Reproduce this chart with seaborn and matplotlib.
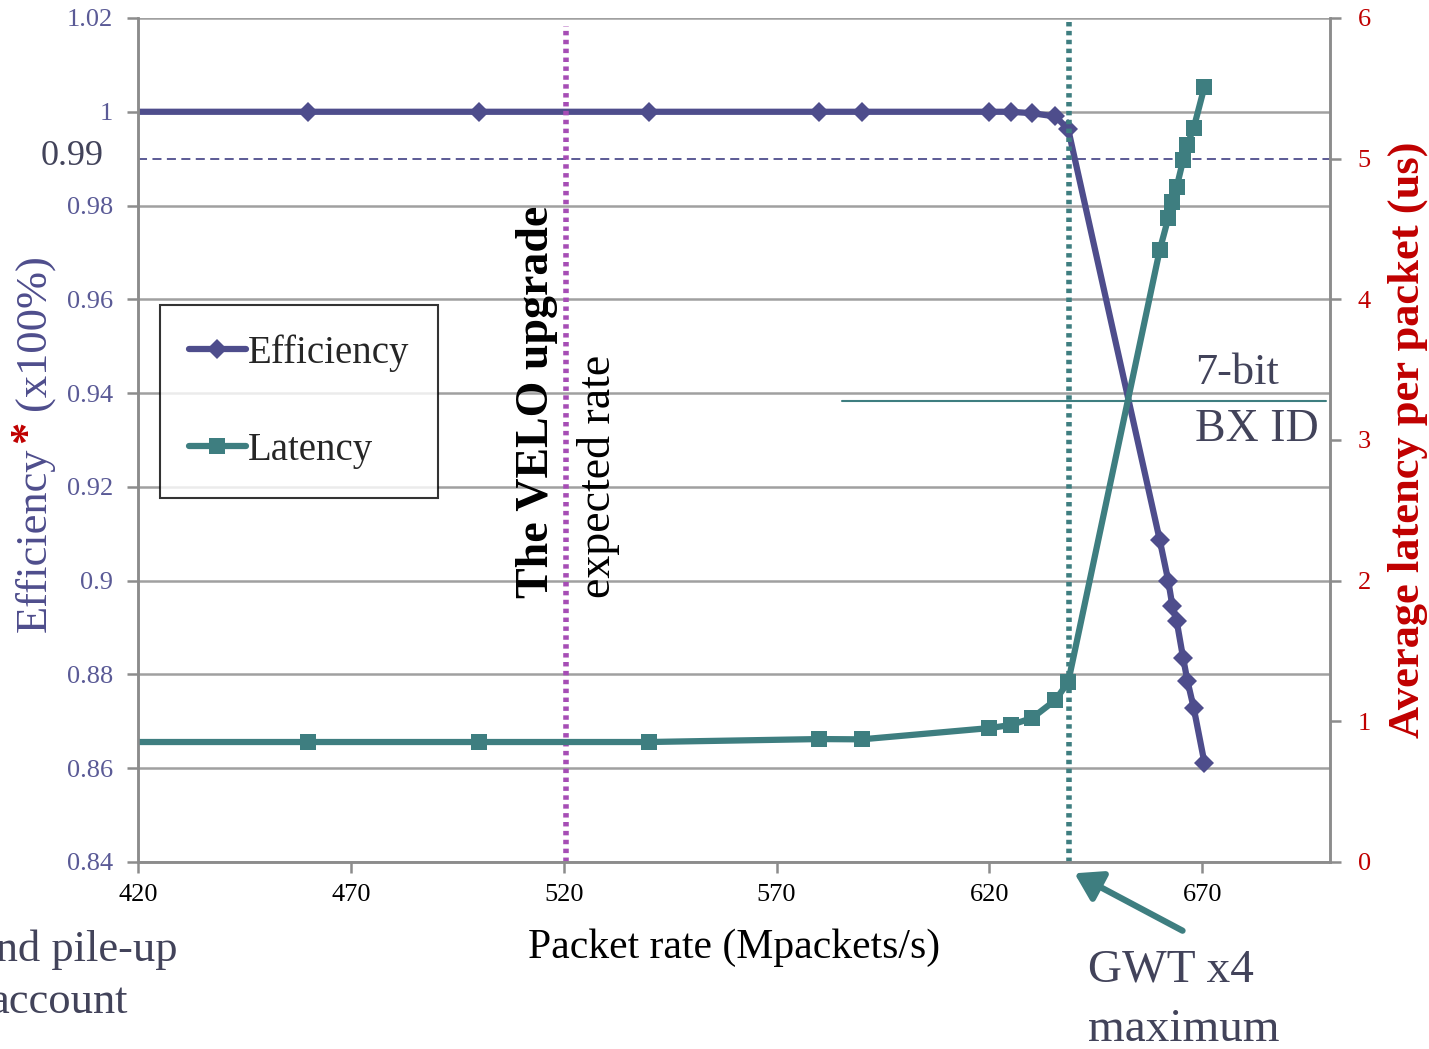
import numpy as np
import pandas as pd
import matplotlib
matplotlib.use('Agg')
import matplotlib.pyplot as plt
import seaborn as sns
from matplotlib.ticker import FuncFormatter
from matplotlib.patches import FancyArrowPatch
from matplotlib.lines import Line2D

# values
rate = [420, 460, 500, 540, 580, 590, 620, 625, 630, 635.5, 638.5,
        660, 662, 663, 664, 665.5, 666.5, 668, 670.5]
efficiency = [1, 1, 1, 1, 1, 1, 1, 1, 0.9997, 0.999, 0.9963,
              0.9087, 0.900, 0.8945, 0.8913, 0.8835, 0.8787, 0.8728, 0.8612]
latency = [0.853, 0.853, 0.853, 0.853, 0.874, 0.872, 0.952, 0.974, 1.023, 1.151, 1.279,
           4.35, 4.577, 4.69, 4.80, 4.99, 5.10, 5.22, 5.51]
left_ticks = [0.84, 0.86, 0.88, 0.9, 0.92, 0.94, 0.96, 0.98, 1, 1.02]
right_ticks = [0, 1, 2, 3, 4, 5, 6]
x_ticks = [420, 470, 520, 570, 620, 670]
velo_rate = 520.6
gwt_rate = 638.7
bx_level = 3.28
bx_span = [585.4, 699]

df = pd.DataFrame({'rate': rate, 'eff': efficiency, 'lat': latency})

sns.set_style('white')
plt.rcParams['font.family'] = ['Liberation Serif', 'DejaVu Serif']

c_eff = '#4e4d8c'
c_lat = '#3e7e80'
c_red = '#c00000'
c_txt = '#42435a'
c_axis = '#8c8c8c'

fig = plt.figure(figsize=(14.29, 10.49), dpi=100)
ax = fig.add_axes([138/1429, 1-862/1049, (1330-138)/1429, (862-18)/1049])
ax2 = ax.twinx()

sns.lineplot(data=df, x='rate', y='eff', ax=ax, color=c_eff, lw=4.5,
             marker='D', markersize=10, markeredgewidth=0,
             markevery=list(range(1, len(rate))), legend=False)
sns.lineplot(data=df, x='rate', y='lat', ax=ax2, color=c_lat, lw=4.5,
             marker='s', markersize=11, markeredgewidth=0,
             markevery=list(range(1, len(rate))), legend=False)

ax.set_xlim(420, 700)
ax.set_ylim(0.84, 1.02)
ax2.set_ylim(0, 6)
ax.set_xticks(x_ticks)
ax.set_yticks(left_ticks)
ax2.set_yticks(right_ticks)
ax.yaxis.set_major_formatter(FuncFormatter(lambda v, p: '{:g}'.format(round(v, 2))))

ax.grid(axis='y', color='#a0a0a0', lw=1.8)
ax.set_axisbelow(True)
for a in (ax, ax2):
    a.spines['top'].set_visible(False)
    for s in ('left', 'right', 'bottom'):
        a.spines[s].set_color(c_axis)
        a.spines[s].set_linewidth(1.8)
ax.tick_params(axis='y', colors=c_axis, labelcolor='#5a5a96', labelsize=19, length=8, width=1.8,
               direction='out', left=True, pad=10)
ax.tick_params(axis='x', colors=c_axis, labelcolor='black', labelsize=19, length=8, width=1.8,
               direction='out', bottom=True, pad=8)
ax2.tick_params(axis='y', colors=c_axis, labelcolor=c_red, labelsize=19, length=8, width=1.8,
                direction='out', right=True, pad=12)

ax.set_xlabel('Packet rate (Mpackets/s)', fontsize=30, color='black', labelpad=16)
ax.set_ylabel('')
ax2.set_ylabel('Average latency per packet (us)', fontsize=32, color=c_red, fontweight='bold', labelpad=12)

# 0.99 reference line
ax.axhline(0.99, color=c_eff, lw=1.3, ls=(0, (5, 3)))
fig.text(104/1429, 1-157/1049, '0.99', fontsize=26, color=c_txt, ha='right', va='center')

# vertical markers
ax.axvline(velo_rate, color='#a64db5', lw=4, ls=(0, (0.8, 0.8)), ymax=0.99)
ax.axvline(gwt_rate, color=c_lat, lw=4, ls=(0, (0.8, 0.8)))
fig.text(537/1429, 1-598/1049, 'The VELO upgrade', rotation=90, fontsize=33, color='black',
         ha='center', va='bottom', fontweight='bold')
fig.text(598/1429, 1-598/1049, 'expected rate', rotation=90, fontsize=33, color='black',
         ha='center', va='bottom')

# 7-bit BX ID
ax2.plot(bx_span, [bx_level, bx_level], color=c_lat, lw=1.5)
fig.text(1195/1429, 1-373/1049, '7-bit', fontsize=32, color=c_txt, va='center')
fig.text(1195/1429, 1-430/1049, 'BX ID', fontsize=33, color=c_txt, va='center')

# left label with red asterisk
fig.text(35/1429, 1-632/1049, 'Efficiency', rotation=90, fontsize=32, color=c_eff, ha='center', va='bottom')
fig.text(28/1429, 1-443/1049, '*', rotation=90, fontsize=32, color=c_red, ha='center', va='bottom',
         fontweight='bold')
fig.text(35/1429, 1-410/1049, '(x100%)', rotation=90, fontsize=32, color=c_eff, ha='center', va='bottom')

# legend
handles = [Line2D([], [], color=c_eff, lw=4.5, marker='D', markersize=10, markeredgewidth=0),
           Line2D([], [], color=c_lat, lw=4.5, marker='s', markersize=11, markeredgewidth=0)]
leg = ax.legend(handles, ['Efficiency', 'Latency'], loc='upper left', bbox_to_anchor=(0.0185, 0.66),
                fontsize=28, frameon=True, fancybox=False, edgecolor='black', numpoints=1,
                borderpad=0.75, labelspacing=1.55, handlelength=1.45, handletextpad=0.05,
                borderaxespad=0)
leg.get_frame().set_linewidth(1.5)

# cut-off slide texts
fig.text(178/1429, 1-950/1049, 'end pile-up', fontsize=32, color=c_txt, ha='right', va='center')
fig.text(128/1429, 1-1002/1049, 'account', fontsize=32, color=c_txt, ha='right', va='center')
fig.text(1088/1429, 1-970/1049, 'GWT x4', fontsize=34, color=c_txt, ha='left', va='center')
fig.text(1088/1429, 1-1030/1049, 'maximum', fontsize=34, color=c_txt, ha='left', va='center')

arrow = FancyArrowPatch((1185/1429, 1-932/1049), (1072/1429, 1-872/1049),
                        transform=fig.transFigure, arrowstyle='-|>,head_length=0.8,head_width=0.5',
                        mutation_scale=20, color=c_lat, lw=4.5)
fig.add_artist(arrow)

fig.savefig('out.png', dpi=100)
